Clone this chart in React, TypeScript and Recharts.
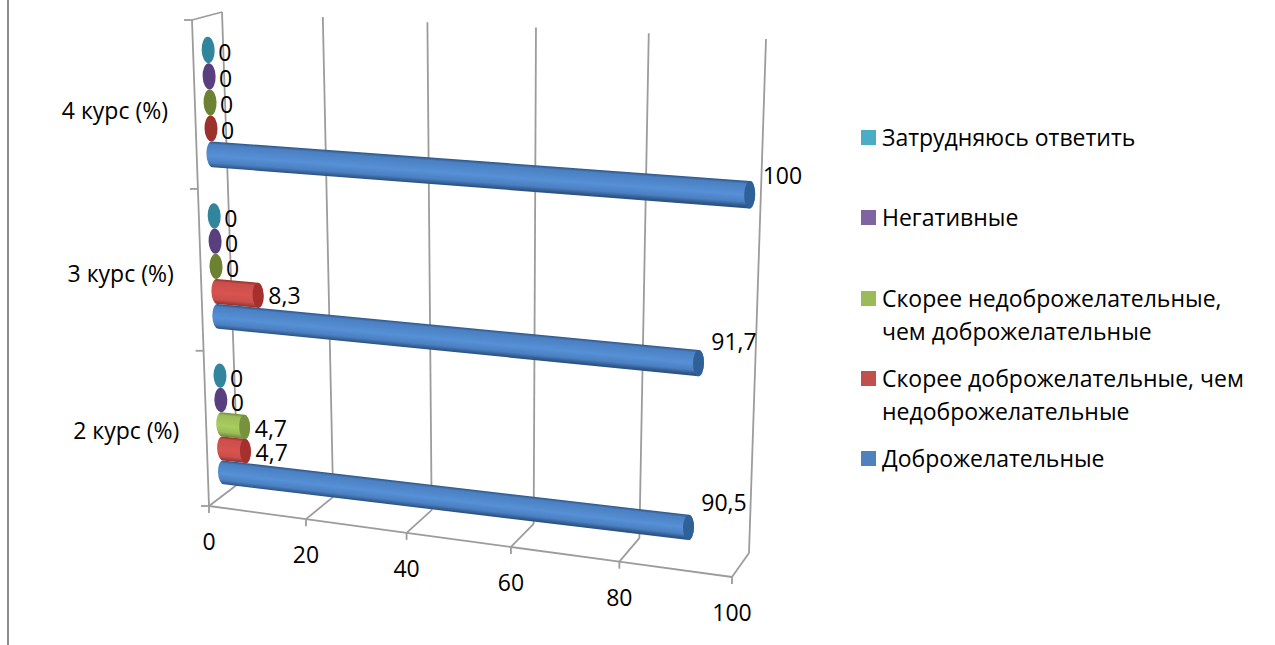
import { BarChart, Bar, XAxis, YAxis, CartesianGrid, Legend, LabelList } from 'recharts'

const categories = ['4 курс (%)', '3 курс (%)', '2 курс (%)']
const unsure = [0, 0, 0]
const negative = [0, 0, 0]
const ratherUnfriendly = [0, 0, 4.7]
const ratherFriendly = [0, 8.3, 4.7]
const friendly = [100, 91.7, 90.5]
const valueTicks = [0, 20, 40, 60, 80, 100]

const chartData = categories.map((course, i) => ({
  course,
  unsure: unsure[i],
  negative: negative[i],
  ratherUnfriendly: ratherUnfriendly[i],
  ratherFriendly: ratherFriendly[i],
  friendly: friendly[i],
}))

const FONT = '"Open Sans", sans-serif'
const FONT_SIZE = 23

// flat plot area; everything gets projected from here onto the 3d planes
const LEFT = 207
const TOP = 18
const W = 540
const H = 490

type Pt = [number, number]

function makePlane(p0: Pt, p1: Pt, p2: Pt, p3: Pt) {
  const dx1 = p1[0] - p2[0]
  const dx2 = p3[0] - p2[0]
  const sx = p0[0] - p1[0] + p2[0] - p3[0]
  const dy1 = p1[1] - p2[1]
  const dy2 = p3[1] - p2[1]
  const sy = p0[1] - p1[1] + p2[1] - p3[1]
  const den = dx1 * dy2 - dx2 * dy1
  const g = (sx * dy2 - dx2 * sy) / den
  const h = (dx1 * sy - sx * dy1) / den
  const a = p1[0] - p0[0] + g * p1[0]
  const b = p3[0] - p0[0] + h * p3[0]
  const d = p1[1] - p0[1] + g * p1[1]
  const e = p3[1] - p0[1] + h * p3[1]
  return (u: number, v: number): Pt => {
    const w = g * u + h * v + 1
    return [(a * u + b * v + p0[0]) / w, (d * u + e * v + p0[1]) / w]
  }
}

const barPlane = makePlane([207, 18], [753.5, 49], [740, 564], [224.5, 501])
const backWall = makePlane([222, 12], [766, 39], [749, 553], [238, 484])
const frontWall = makePlane([192, 20], [751, 45], [732, 577], [209, 506])

const toU = (x: number) => (x - LEFT) / W
const toV = (y: number) => (y - TOP) / H
const flat = (x: number, y: number) => barPlane(toU(x), toV(y))

const GRID = '#9c9c9c'

function Seg({ a, b }: { a: Pt; b: Pt }) {
  return <line x1={a[0]} y1={a[1]} x2={b[0]} y2={b[1]} stroke={GRID} strokeWidth={1.8} />
}

// wall + floor lines, one call per x tick
function gridLine(props: any) {
  const u = toU(props.x1)
  const top = backWall(u, 0)
  const bottom = backWall(u, 1)
  const front = frontWall(u, 1)
  const isFirst = props.index === 0
  const isLast = props.index === valueTicks.length - 1
  return (
    <g key={props.key ?? props.index}>
      <Seg a={top} b={bottom} />
      <Seg a={bottom} b={front} />
      <Seg a={front} b={[front[0], front[1] + 7]} />
      {isFirst && (
        <>
          <Seg a={frontWall(0, 0)} b={frontWall(0, 1)} />
          <Seg a={frontWall(0, 0)} b={top} />
          {[0, 1, 2, 3].map((n) => {
            const p = frontWall(0, n / 3)
            return <Seg key={n} a={p} b={[p[0] - 8, p[1]]} />
          })}
        </>
      )}
      {!isLast && <Seg a={front} b={frontWall(valueTicks[props.index + 1] / 100, 1)} />}
    </g>
  )
}

const barColors: Record<string, { light: string; mid: string; dark: string; flat: string; cap: string }> = {
  unsure: { light: '#4bacc6', mid: '#3f9ab3', dark: '#2b7287', flat: '#31859c', cap: '#2b7287' },
  negative: { light: '#8064a2', mid: '#705590', dark: '#4e3a68', flat: '#5a3f7f', cap: '#4e3a68' },
  ratherUnfriendly: { light: '#a9cd5f', mid: '#9bbb59', dark: '#6c8a32', flat: '#6d8132', cap: '#76923c' },
  ratherFriendly: { light: '#d9534f', mid: '#c94f4b', dark: '#95302c', flat: '#9c302c', cap: '#a5302e' },
  friendly: { light: '#5690d6', mid: '#4b80c2', dark: '#2d5484', flat: '#3a6ba5', cap: '#2f6098' },
}

function Cylinder(props: any) {
  const { x, y, width, height, index } = props
  const key = props.dataKey as string
  const c = barColors[key]
  const tl = flat(x, y)
  const bl = flat(x, y + height)
  const tr = flat(x + width, y)
  const br = flat(x + width, y + height)
  const rx = 5.5
  const ry = Math.hypot(bl[0] - tl[0], bl[1] - tl[1]) / 2
  const rot = (Math.atan2(bl[1] - tl[1], bl[0] - tl[0]) * 180) / Math.PI - 90
  if (width < 0.5) {
    return (
      <ellipse
        cx={(tl[0] + bl[0]) / 2}
        cy={(tl[1] + bl[1]) / 2}
        rx={6.5}
        ry={ry}
        transform={`rotate(${rot} ${(tl[0] + bl[0]) / 2} ${(tl[1] + bl[1]) / 2})`}
        fill={c.flat}
      />
    )
  }
  const id = `cyl-${key}-${index}`
  const rot2 = (Math.atan2(br[1] - tr[1], br[0] - tr[0]) * 180) / Math.PI - 90
  const ry2 = Math.hypot(br[0] - tr[0], br[1] - tr[1]) / 2
  const capX = (tr[0] + br[0]) / 2
  const capY = (tr[1] + br[1]) / 2
  // gradient runs across the tube, square to its axis
  const ax = tr[0] - tl[0]
  const ay = tr[1] - tl[1]
  const len = Math.hypot(ax, ay)
  const nx = -ay / len
  const ny = ax / len
  const span = (bl[0] - tl[0]) * nx + (bl[1] - tl[1]) * ny
  return (
    <g>
      <defs>
        <linearGradient
          id={id}
          gradientUnits="userSpaceOnUse"
          x1={tl[0]}
          y1={tl[1]}
          x2={tl[0] + nx * span}
          y2={tl[1] + ny * span}
        >
          <stop offset="0" stopColor={c.dark} />
          <stop offset="0.12" stopColor={c.mid} />
          <stop offset="0.55" stopColor={c.light} />
          <stop offset="0.82" stopColor={c.mid} />
          <stop offset="1" stopColor={c.dark} />
        </linearGradient>
      </defs>
      <path
        d={`M${tl[0]} ${tl[1]} L${tr[0]} ${tr[1]} A${rx} ${ry2} ${rot2} 0 1 ${br[0]} ${br[1]} L${bl[0]} ${bl[1]} A${rx} ${ry} ${rot} 0 1 ${tl[0]} ${tl[1]} Z`}
        fill={`url(#${id})`}
      />
      <ellipse
        cx={capX}
        cy={capY}
        rx={rx}
        ry={ry2}
        transform={`rotate(${rot2} ${capX} ${capY})`}
        fill={c.cap}
      />
    </g>
  )
}

function ValueLabel(props: any) {
  const box = props.viewBox ?? props
  const { x, y, width, height } = box
  const u = toU(x + width)
  const v = toV(y + height / 2)
  const [px, py] = flat(x + width, y + height / 2)
  return (
    <text x={px + 10 + 3 * u} y={py + 11 - u * (18 + 13 * v)} fontFamily={FONT} fontSize={FONT_SIZE} fill="#000">
      {String(props.value).replace('.', ',')}
    </text>
  )
}

function ValueTick(props: any) {
  const u = toU(props.x)
  const [px, py] = frontWall(u, 1)
  return (
    <text x={px} y={py + 44} textAnchor="middle" fontFamily={FONT} fontSize={FONT_SIZE} fill="#000">
      {props.payload.value}
    </text>
  )
}

function CourseTick(props: any) {
  const v = toV(props.y)
  const [px, py] = frontWall(0, v)
  return (
    <text x={px - 27} y={py + 14 - 5 * v} textAnchor="end" fontFamily={FONT} fontSize={FONT_SIZE} fill="#000">
      {props.payload.value}
    </text>
  )
}

const legendTops = [137, 217, 298, 378, 458]

const legendSwatch: Record<string, string> = {
  unsure: '#4bacc6',
  negative: '#8064a2',
  ratherUnfriendly: '#9bbb59',
  ratherFriendly: '#c0504d',
  friendly: '#4f81bd',
}

function LegendRows({ payload }: any) {
  return (
    <>
      {(payload ?? []).map((entry: any, i: number) => (
        <div
          key={entry.value}
          style={{
            position: 'absolute',
            left: 861,
            top: legendTops[i] - 16,
            width: 410,
            fontFamily: FONT,
            fontSize: FONT_SIZE,
            lineHeight: '33px',
            color: '#000',
            whiteSpace: 'pre-line',
            paddingLeft: 21,
            textAlign: 'left',
          }}
        >
          <span
            style={{
              position: 'absolute',
              left: 0,
              top: 9,
              width: 15,
              height: 15,
              background: legendSwatch[entry.dataKey],
            }}
          />
          {entry.value}
        </div>
      ))}
    </>
  )
}

const seriesList = [
  { key: 'unsure', name: 'Затрудняюсь ответить' },
  { key: 'negative', name: 'Негативные' },
  { key: 'ratherUnfriendly', name: 'Скорее недоброжелательные,\nчем доброжелательные' },
  { key: 'ratherFriendly', name: 'Скорее доброжелательные, чем\nнедоброжелательные' },
  { key: 'friendly', name: 'Доброжелательные' },
]

export default function App() {
  return (
    <div style={{ position: 'absolute', left: 0, top: 0, width: 1275, height: 645, background: '#fff' }}>
      <div style={{ position: 'absolute', left: 7, top: 0, width: 2, height: 645, background: '#8c8c8c' }} />
      <BarChart
        width={1275}
        height={645}
        data={chartData}
        layout="vertical"
        barGap={0}
        barSize={25.5}
        margin={{ top: TOP, left: LEFT - 1, right: 1275 - LEFT - W, bottom: 645 - TOP - H - 1 }}
      >
        <CartesianGrid horizontal={false} vertical={gridLine} />
        <XAxis
          type="number"
          domain={[0, 100]}
          ticks={valueTicks}
          height={1}
          axisLine={false}
          tickLine={false}
          tick={ValueTick}
          interval={0}
        />
        <YAxis
          type="category"
          dataKey="course"
          width={1}
          axisLine={false}
          tickLine={false}
          tick={CourseTick}
          interval={0}
        />
        <Legend
          content={LegendRows}
          itemSorter={null}
          wrapperStyle={{ top: 0, left: 0, width: 0, height: 0 }}
        />
        {seriesList.map((s) => (
          <Bar key={s.key} dataKey={s.key} name={s.name} fill={legendSwatch[s.key]} shape={Cylinder} isAnimationActive={false}>
            <LabelList dataKey={s.key} content={ValueLabel} />
          </Bar>
        ))}
      </BarChart>
    </div>
  )
}
